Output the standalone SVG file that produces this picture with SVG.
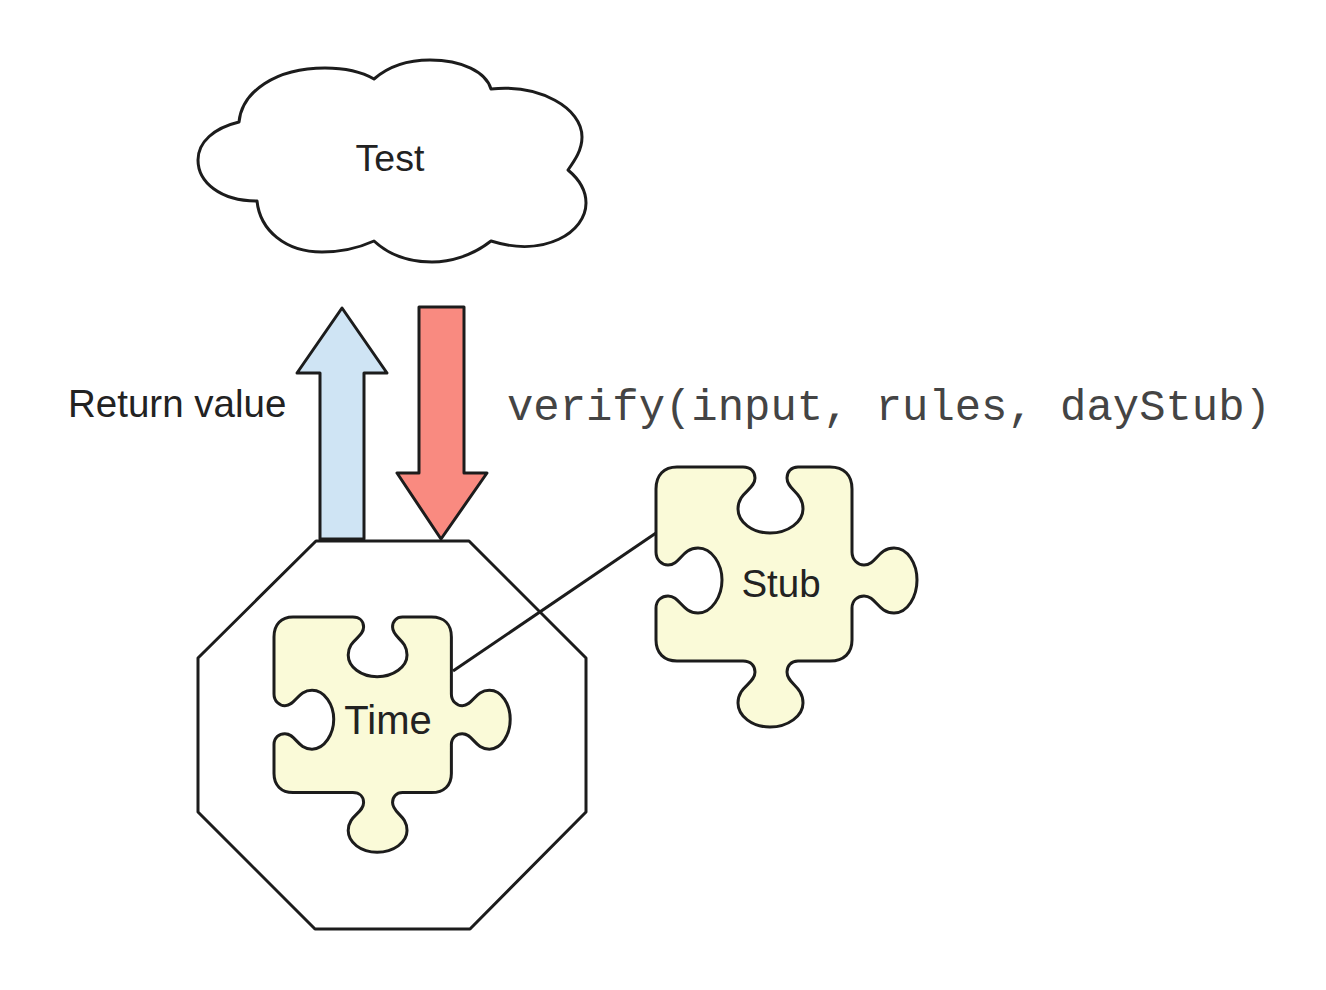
<svg xmlns="http://www.w3.org/2000/svg" width="1326" height="990" viewBox="0 0 1326 990">
<style>
.s{stroke:#1c1c1c;stroke-width:3;stroke-linejoin:round}
.t{font-family:"Liberation Sans",Arial,sans-serif;fill:#222;font-size:38.5px}
.m{font-family:"Liberation Mono","Courier New",monospace;fill:#444;font-size:43.9px}
</style>
<defs>
<path id="piece" vector-effect="non-scaling-stroke" d="M677 467H743C751 467 755 472 755 478C755 490 738 492 738 509C738 522 752 533 770 533C788 533 803 522 803 509C803 492 787 490 787 478C787 472 791 467 798 467H830C844 467 852 475 852 489V552C852 560 858 565 864 565C876 565 878 548 894 548C908 548 917 564 917 580C917 596 908 613 894 613C878 613 876 596 864 596C858 596 852 600 852 608V640C852 653 844 661 830 661H798C791 661 787 666 787 672C787 684 803 686 803 703C803 716 788 727 770 727C752 727 738 716 738 703C738 686 755 684 755 672C755 666 751 661 743 661H677C664 661 656 653 656 640V608C656 600 662 596 668 596C680 596 682 613 698 613C712 613 722 596 722 580C722 564 712 548 698 548C682 548 680 565 668 565C662 565 656 560 656 552V489C656 475 664 467 677 467Z"/>
</defs>
<rect width="1326" height="990" fill="#fff"/>
<g id="cloud">
<path class="s" fill="#fff" d="M374 79C390 65 410 60 430 60C462 60 486 72 491 89C540 84 582 108 582 137C582 150 575 160 568 170C580 180 586 192 586 203C586 232 545 258 491 241C472 256 450 262 432 262C408 262 388 254 374 241C354 250 336 252 322 252C285 252 260 230 257 201C220 201 198 182 198 160C198 142 214 128 239 122C242 92 275 68 325 68C345 68 362 72 374 79Z"/>
<text class="t" x="390" y="171" text-anchor="middle" style="font-size:37.5px">Test</text>
</g>
<g id="time-module">
<path class="s" fill="#fff" d="M316 541H469L586 658V812L470 929H315L198 812V658Z"/>
</g>
<g id="return-arrow">
<path class="s" fill="#cfe4f4" d="M342 308L387 373H364V539H320V373H297Z"/>
</g>
<g id="verify-arrow">
<path class="s" fill="#f98a80" d="M419 307H464V473H487L441 539L397 473H419Z"/>
</g>
<g id="connectors">
<line class="s" x1="453" y1="671" x2="656" y2="533"/>
</g>
<g id="time">
<use href="#piece" class="s" fill="#fafad8" transform="translate(274 617) scale(.905) translate(-656 -467)"/>
<text class="t" x="388" y="734" text-anchor="middle" style="font-size:40px">Time</text>
</g>
<g id="stub">
<use href="#piece" class="s" fill="#fafad8"/>
<text class="t" x="781" y="597" text-anchor="middle">Stub</text>
</g>
<g id="labels">
<text class="t" x="68" y="417">Return value</text>
<text class="m" x="507" y="420">verify(input, rules, dayStub)</text>
</g>
</svg>
